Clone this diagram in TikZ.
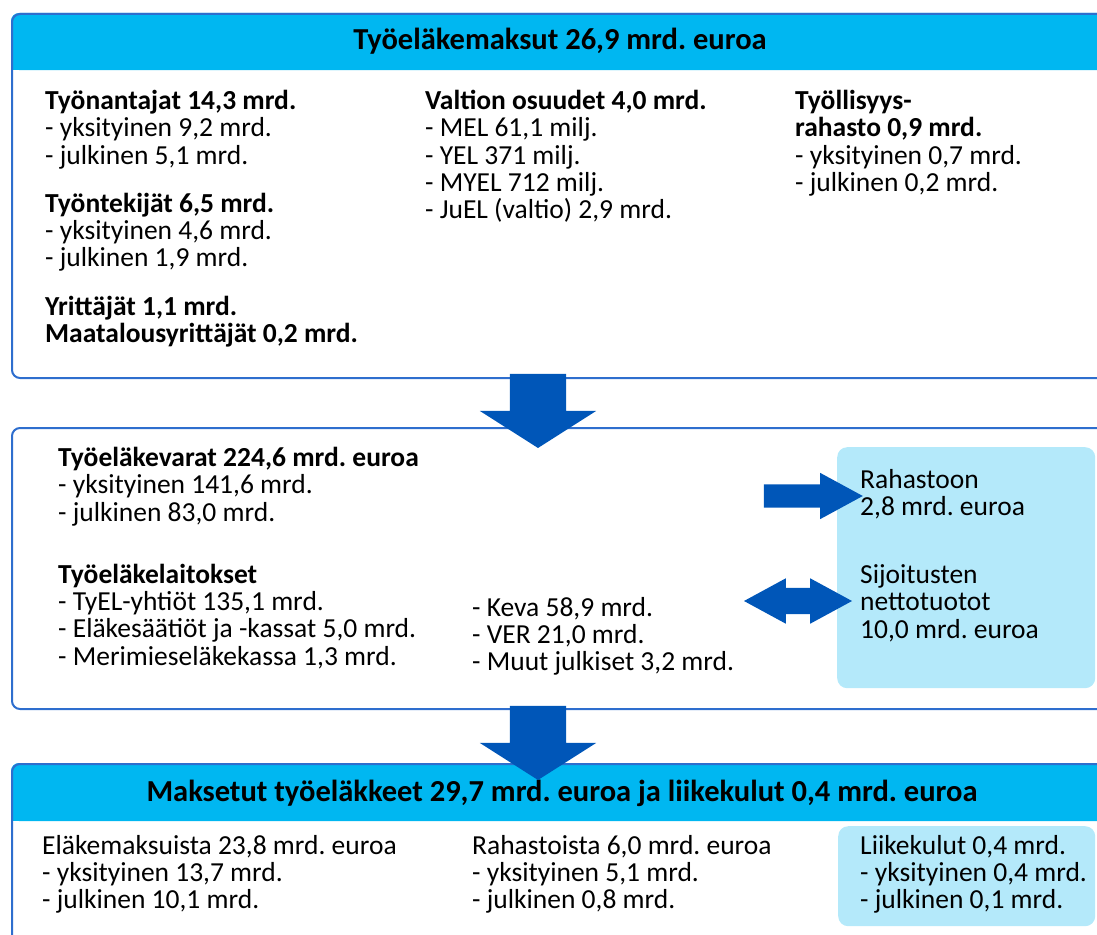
\documentclass[tikz,border=0pt]{standalone}
\usepackage{fontspec}
\setmainfont{Carlito}
\usepackage{xcolor}
\usetikzlibrary{shapes.arrows}

\definecolor{headcyan}{RGB}{0,183,241}
\definecolor{frameblue}{RGB}{46,110,206}
\definecolor{arrowblue}{RGB}{0,86,184}
\definecolor{paleblue}{RGB}{180,233,250}
\newcommand{\bodyfs}{\fontsize{27.5}{27.3}\selectfont\lineskiplimit=-20pt\frenchspacing}
\newcommand{\titlefs}{\fontsize{30.5}{33}\selectfont\frenchspacing}
\newcommand{\topstrut}{\rule{0pt}{20pt}}

\begin{document}
\begin{tikzpicture}[
    x=1pt, y=-1pt,
    panel/.style={draw=frameblue, line width=2pt, rounded corners=8pt, anchor=north west, inner sep=0pt},
    band/.style={fill=headcyan, rounded corners=8pt},
    title/.style={font=\titlefs\bfseries, anchor=base, inner sep=0pt},
    txt/.style={font=\bodyfs, anchor=north west, align=left, inner sep=0pt, execute at begin node=\topstrut},
    sidebox/.style={fill=paleblue, rounded corners=10pt, anchor=north west, inner sep=0pt},
    downarrow/.style={single arrow, fill=arrowblue, rotate=-90, inner xsep=0pt, inner ysep=28pt, minimum height=74pt, single arrow head extend=30pt, single arrow tip angle=115, single arrow head indent=0pt},
    sidearrow/.style={single arrow, fill=arrowblue, inner xsep=0pt, inner ysep=11.5pt, minimum height=99pt, single arrow head extend=11.5pt, single arrow tip angle=57, single arrow head indent=0pt},
    botharrow/.style={double arrow, fill=arrowblue, inner xsep=0pt, inner ysep=13pt, minimum height=108pt, double arrow head extend=9.5pt, double arrow tip angle=57, double arrow head indent=0pt}
]
\useasboundingbox (0,0) rectangle (1097,934);

% Tyoelakemaksut
\fill[band] (11,13) rectangle (1115,70);
\fill[headcyan] (11,40) rectangle (1115,70);
\node [panel, minimum width=1104pt, minimum height=364pt] (maksut) at (11,13) {};
\node [title] (maksutTitle) at (560,50) {Työeläkemaksut 26,9 mrd. euroa};

\node [txt] (tyonantajat) at (45,90) {\textbf{Työnantajat 14,3 mrd.}\\- yksityinen 9,2 mrd.\\- julkinen 5,1 mrd.\\[20.7pt]
  \textbf{Työntekijät 6,5 mrd.}\\- yksityinen 4,6 mrd.\\- julkinen 1,9 mrd.\\[21.5pt]
  \textbf{Yrittäjät 1,1 mrd.}\\\textbf{Maatalousyrittäjät 0,2 mrd.}};
\node [txt] (valtio) at (425,90) {\textbf{Valtion osuudet 4,0 mrd.}\\- MEL 61,1 milj.\\- YEL 371 milj.\\- MYEL 712 milj.\\- JuEL (valtio) 2,9 mrd.};
\node [txt] (rahasto) at (795,90) {\textbf{Työllisyys-}\\\textbf{rahasto 0,9 mrd.}\\- yksityinen 0,7 mrd.\\- julkinen 0,2 mrd.};

% Tyoelakevarat
\node [panel, minimum width=1104pt, minimum height=281pt] (varat) at (11,427) {};
\node [sidebox, minimum width=258pt, minimum height=241pt] (tuotot) at (837,447) {};

\node [txt] (varatText) at (58,447) {\textbf{Työeläkevarat 224,6 mrd. euroa}\\- yksityinen 141,6 mrd.\\- julkinen 83,0 mrd.\\[34.7pt]
  \textbf{Työeläkelaitokset}\\- TyEL-yhtiöt 135,1 mrd.\\- Eläkesäätiöt ja -kassat 5,0 mrd.\\- Merimieseläkekassa 1,3 mrd.};
\node [txt] (julkiset) at (472,597) {- Keva 58,9 mrd.\\- VER 21,0 mrd.\\- Muut julkiset 3,2 mrd.};
\node [txt] (rahastoon) at (860,469) {Rahastoon\\2,8 mrd. euroa\\[40.7pt]Sijoitusten\\nettotuotot\\10,0 mrd. euroa};

\node [sidearrow] (toFund) at (802.5,496) {};
\node [botharrow] (returns) at (798,601) {};

% Maksetut elakkeet
\fill[band] (11,763) rectangle (1115,821);
\fill[headcyan] (11,790) rectangle (1115,821);
\node [panel, minimum width=1104pt, minimum height=200pt] (maksetut) at (11,763) {};
\node [title] (maksetutTitle) at (562,801) {Maksetut työeläkkeet 29,7 mrd. euroa ja liikekulut 0,4 mrd. euroa};
\node [sidebox, minimum width=257pt, minimum height=100pt] (kulut) at (838,826) {};

\node [txt] (elakemaksuista) at (42,835) {Eläkemaksuista 23,8 mrd. euroa\\- yksityinen 13,7 mrd.\\- julkinen 10,1 mrd.};
\node [txt] (rahastoista) at (472,835) {Rahastoista 6,0 mrd. euroa\\- yksityinen 5,1 mrd.\\- julkinen 0,8 mrd.};
\node [txt] (liikekulut) at (860,835) {Liikekulut 0,4 mrd.\\- yksityinen 0,4 mrd.\\- julkinen 0,1 mrd.};

\node [downarrow] (flowA) at (538,402) {};
\node [downarrow] (flowB) at (538,734) {};

\end{tikzpicture}
\end{document}
